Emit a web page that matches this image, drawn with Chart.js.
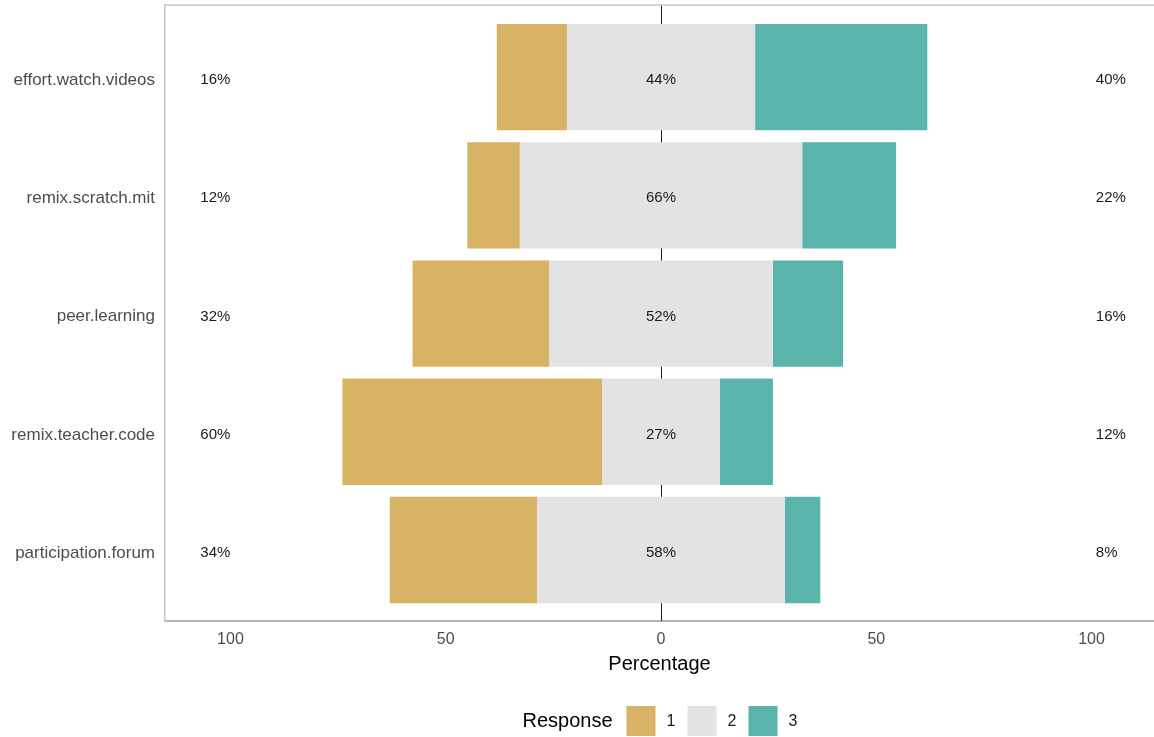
<!DOCTYPE html>
<html><head><meta charset="utf-8">
<script src="https://cdn.jsdelivr.net/npm/chart.js@4.4.0/dist/chart.umd.min.js"></script>
<style>html,body{margin:0;padding:0;background:#fff;overflow:hidden}#wrap{width:1154px;height:737px;position:relative}</style>
</head><body><div id="wrap"><canvas id="c" width="1154" height="737"></canvas></div>
<script>
const categories = ['effort.watch.videos','remix.scratch.mit','peer.learning','remix.teacher.code','participation.forum'];
const responseLevels = ['1','2','3'];
const low = [16.3, 12.2, 31.7, 60.3, 34.2];
const neutral = [43.7, 65.6, 52.0, 27.4, 57.6];
const high = [40.0, 21.8, 16.3, 12.3, 8.2];
const xTicks = [-100, -50, 0, 50, 100];
const colors = ['#D8B365', '#E3E3E3', '#5AB4AC'];
const FONT = '"Liberation Sans", Arial, sans-serif';

const datasets = [
  {label: responseLevels[0], backgroundColor: colors[0],
   data: categories.map((c, i) => ({x: [-neutral[i] / 2 - low[i], -neutral[i] / 2], y: i}))},
  {label: responseLevels[1], backgroundColor: colors[1],
   data: categories.map((c, i) => ({x: [-neutral[i] / 2, neutral[i] / 2], y: i}))},
  {label: responseLevels[2], backgroundColor: colors[2],
   data: categories.map((c, i) => ({x: [neutral[i] / 2, neutral[i] / 2 + high[i]], y: i}))}
];

const decor = {
  id: 'likertDecor',
  beforeDatasetsDraw(chart) {
    const {ctx, chartArea: a, scales: {x}} = chart;
    ctx.save();
    const x0 = Math.round(x.getPixelForValue(0)) + 0.5;
    ctx.strokeStyle = '#1a1a1a'; ctx.lineWidth = 1;
    ctx.beginPath(); ctx.moveTo(x0, a.top); ctx.lineTo(x0, a.bottom); ctx.stroke();
    ctx.strokeStyle = '#c8c8c8'; ctx.lineWidth = 1.5;
    ctx.beginPath(); ctx.moveTo(a.left, a.top); ctx.lineTo(a.right, a.top); ctx.stroke();
    ctx.restore();
  },
  afterDatasetsDraw(chart) {
    const {ctx, scales: {x, y}} = chart;
    ctx.save();
    ctx.font = '15px ' + FONT;
    ctx.fillStyle = '#1a1a1a';
    ctx.textBaseline = 'middle';
    categories.forEach((c, i) => {
      const py = y.getPixelForValue(i) + 3;
      ctx.textAlign = 'left';
      ctx.fillText(Math.round(low[i]) + '%', x.getPixelForValue(-107), py);
      ctx.textAlign = 'center';
      ctx.fillText(Math.round(neutral[i]) + '%', x.getPixelForValue(0), py);
      ctx.textAlign = 'left';
      ctx.fillText(Math.round(high[i]) + '%', x.getPixelForValue(101), py);
    });
    ctx.restore();
  },
  afterDraw(chart) {
    const {ctx, chartArea: a} = chart;
    const cx = (a.left + a.right) / 2;
    ctx.save();
    ctx.fillStyle = '#000';
    ctx.textBaseline = 'middle';
    ctx.textAlign = 'center';
    ctx.font = '20px ' + FONT;
    ctx.fillText('Percentage', cx, 664);
    // legend
    let lx = cx - 137;
    const ly = 721;
    ctx.textAlign = 'left';
    ctx.fillText('Response', lx, ly);
    lx += 104;
    ctx.font = '16px ' + FONT;
    chart.data.datasets.forEach((d, k) => {
      ctx.fillStyle = d.backgroundColor;
      ctx.fillRect(lx, ly - 15, 29, 30);
      ctx.fillStyle = '#1a1a1a';
      ctx.fillText(d.label, lx + 40, ly + 1);
      lx += 61;
    });
    ctx.restore();
  }
};

new Chart(document.getElementById('c'), {
  type: 'bar',
  data: {datasets},
  plugins: [decor],
  options: {
    responsive: false,
    devicePixelRatio: 1,
    animation: false,
    indexAxis: 'y',
    layout: {padding: {top: 5, left: 0, right: 0, bottom: 0}},
    datasets: {bar: {grouped: false, barPercentage: 0.9, categoryPercentage: 1, borderWidth: 0}},
    plugins: {legend: {display: false}, tooltip: {enabled: false}},
    scales: {
      x: {
        type: 'linear', min: -115.2, max: 114.5,
        afterBuildTicks: s => { s.ticks = xTicks.map(v => ({value: v})); },
        afterFit: s => { s.height = 116; s.paddingLeft = 0; s.paddingRight = 0; },
        ticks: {callback: v => Math.abs(v), font: {size: 16, family: FONT}, color: '#4d4d4d', padding: 9, maxRotation: 0, autoSkip: false},
        grid: {display: false, drawTicks: false},
        border: {display: true, color: '#b3b3b3', width: 2}
      },
      y: {
        type: 'linear', reverse: true, min: -0.61, max: 4.6, offset: false,
        afterBuildTicks: s => { s.ticks = categories.map((c, i) => ({value: i})); },
        afterFit: s => { s.width = 165; s.paddingTop = 0; s.paddingBottom = 0; },
        ticks: {callback: v => categories[v], font: {size: 17, family: FONT}, color: '#4d4d4d', padding: 10, labelOffset: 3, autoSkip: false},
        grid: {display: false, drawTicks: false, offset: false},
        border: {display: true, color: '#c8c8c8', width: 1.5}
      }
    }
  }
});
</script></body></html>
